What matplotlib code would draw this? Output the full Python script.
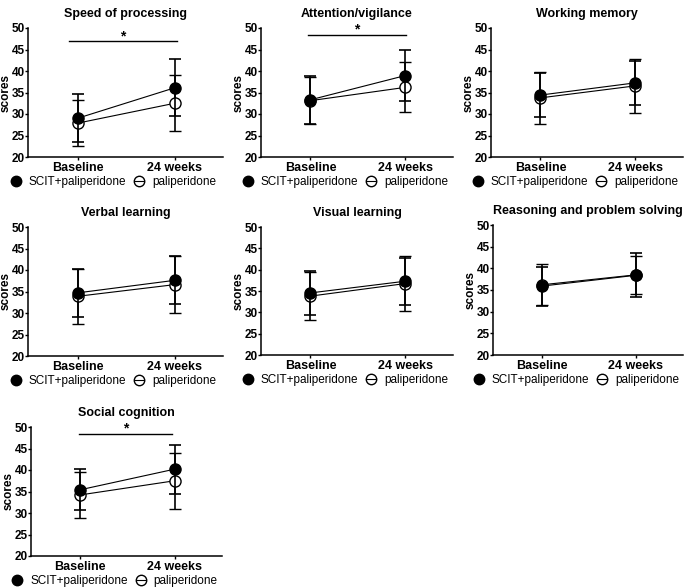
import matplotlib
matplotlib.use("Agg")
import matplotlib.pyplot as plt
from matplotlib.lines import Line2D

plt.rcParams['font.family'] = ['Liberation Sans', 'DejaVu Sans']
plt.rcParams['font.size'] = 8

# data (mean and SD, baseline / 24 weeks)
titles = ["Speed of processing", "Attention/vigilance", "Working memory",
          "Verbal learning", "Visual learning", "Reasoning and problem solving",
          "Social cognition"]
timepoints = ["Baseline", "24 weeks"]
scit_mean = [[29.05, 36.1], [33.3, 38.95], [34.4, 37.25], [34.7, 37.6],
             [34.55, 37.3], [35.9, 38.4], [35.4, 40.2]]
scit_sd = [[5.55, 6.6], [5.6, 5.95], [5.2, 5.15], [5.6, 5.6],
           [5.15, 5.5], [4.5, 5.1], [4.8, 5.7]]
pali_mean = [[27.9, 32.5], [33.1, 36.2], [33.75, 36.55], [33.9, 36.6],
             [33.8, 36.75], [36.2, 38.5], [34.2, 37.5]]
pali_sd = [[5.4, 6.5], [5.5, 5.8], [6.05, 6.35], [6.4, 6.7],
           [5.6, 6.45], [4.7, 4.4], [5.3, 6.5]]
significant = [True, True, False, False, False, False, True]
sig_level = [46.9, 48.4, None, None, None, None, 48.4]
sig_span = [(-0.1, 1.02), (-0.03, 1.01), None, None, None, None, (-0.01, 0.97)]
yticks = [20, 25, 30, 35, 40, 45, 50]

# panel boxes in pixels: left, right, top, bottom
W, H = 688, 587
lefts = [28, 261, 491, 28, 261, 493, 31]
rights = [223, 453, 683, 223, 453, 683, 222]
tops = [28, 28, 28, 227, 227, 225, 427]
bottoms = [157, 157, 157, 356, 355, 355, 556]

fig = plt.figure(figsize=(W / 100, H / 100), dpi=100)

for i, title in enumerate(titles):
    rect = [lefts[i] / W, 1 - bottoms[i] / H,
            (rights[i] - lefts[i]) / W, (bottoms[i] - tops[i]) / H]
    ax = fig.add_axes(rect)
    x = [0, 1]

    ax.errorbar(x, pali_mean[i], yerr=pali_sd[i], color='black', lw=0.8,
                elinewidth=1.2, capsize=4.5, capthick=1.2, marker='o', ms=8,
                mfc='white', mec='black', mew=1.0, zorder=3)
    ax.errorbar(x, scit_mean[i], yerr=scit_sd[i], color='black', lw=0.8,
                elinewidth=1.2, capsize=4.5, capthick=1.2, marker='o', ms=8,
                mfc='black', mec='black', zorder=4)

    if significant[i]:
        x0, x1 = sig_span[i]
        ax.plot([x0, x1], [sig_level[i], sig_level[i]], color='black', lw=1.0,
                clip_on=False)
        ax.text((x0 + x1) / 2, sig_level[i] - 0.4, "*", ha='center',
                va='bottom', fontsize=10, fontweight='bold')

    ax.set_xlim(-0.52, 1.5)
    ax.set_ylim(20, 50)
    ax.set_yticks(yticks)
    ax.set_xticks(x)
    ax.set_xticklabels(timepoints, fontweight='bold', fontsize=9)
    for lab in ax.get_yticklabels():
        lab.set_fontweight('bold')
        lab.set_fontsize(8.5)
    ax.set_ylabel("scores", fontweight='bold', fontsize=8.5, labelpad=0)
    ax.set_title(title, fontweight='bold', fontsize=9, pad=8)
    ax.spines['top'].set_visible(False)
    ax.spines['right'].set_visible(False)
    ax.spines['left'].set_linewidth(1.1)
    ax.spines['bottom'].set_linewidth(1.1)
    ax.tick_params(axis='y', direction='out', length=2, width=1.0, pad=0.5)
    ax.tick_params(axis='x', direction='out', length=2.5, width=1.0, pad=1)

    handles = [
        Line2D([0], [0], color='black', lw=0.8, marker='o', ms=7.5,
               mfc='black', mec='black'),
        Line2D([0], [0], color='black', lw=0.8, marker='o', ms=7.5,
               mfc='none', mec='black'),
    ]
    ax.legend(handles, ["SCIT+paliperidone", "paliperidone"], loc='center',
              bbox_to_anchor=(0.44, -0.195), ncol=2, frameon=False,
              handlelength=0.8, handletextpad=0.7, columnspacing=0.7,
              fontsize=8.5, borderaxespad=0, borderpad=0)

fig.savefig("out.png", dpi=100)
